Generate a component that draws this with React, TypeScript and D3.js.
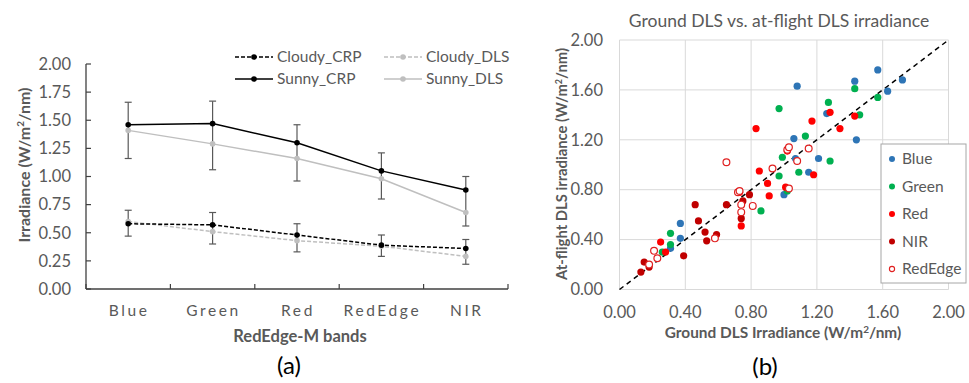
import React from 'react';
import * as d3 from 'd3';

// left panel: band means and error bar ends (W/m2/nm)
const bands = ['Blue', 'Green', 'Red', 'RedEdge', 'NIR'];
const sunnyCRP = [1.46, 1.47, 1.3, 1.05, 0.88];
const sunnyDLS = [1.41, 1.29, 1.16, 0.98, 0.68];
const cloudyCRP = [0.58, 0.57, 0.48, 0.39, 0.36];
const cloudyDLS = [0.6, 0.51, 0.43, 0.38, 0.29];
const sunnyErrHi = [1.66, 1.67, 1.46, 1.21, 1.0];
const sunnyErrLo = [1.16, 1.06, 0.96, 0.8, 0.56];
const cloudyErrHi = [0.7, 0.68, 0.58, 0.48, 0.44];
const cloudyErrLo = [0.47, 0.4, 0.33, 0.29, 0.22];
const leftTicks = [0, 0.25, 0.5, 0.75, 1, 1.25, 1.5, 1.75, 2];

// right panel: [ground, at-flight]
const bluePts = [[1.57, 1.76], [1.72, 1.68], [1.63, 1.59], [1.43, 1.67], [1.08, 1.63], [1.26, 1.41], [1.44, 1.2], [1.06, 1.21], [1.07, 1.05], [1.21, 1.05], [1.15, 0.94], [1.0, 0.76], [0.37, 0.53], [0.37, 0.41], [0.31, 0.33]];
const greenPts = [[0.97, 1.45], [1.27, 1.5], [1.43, 1.61], [1.57, 1.54], [1.46, 1.4], [1.13, 1.23], [0.99, 1.06], [1.28, 1.03], [1.09, 0.94], [0.97, 0.91], [0.86, 0.63], [1.02, 0.79], [0.31, 0.45], [0.31, 0.36], [0.26, 0.3]];
const redPts = [[0.83, 1.29], [1.17, 1.35], [1.28, 1.42], [1.43, 1.39], [1.34, 1.29], [1.02, 1.11], [1.18, 0.92], [0.85, 0.95], [0.9, 0.85], [0.91, 0.75], [1.01, 0.82], [0.73, 0.78], [0.74, 0.51], [0.25, 0.38], [0.28, 0.3]];
const nirPts = [[0.79, 0.76], [0.75, 0.71], [0.74, 0.57], [0.65, 0.68], [0.46, 0.68], [0.48, 0.55], [0.52, 0.46], [0.53, 0.39], [0.59, 0.44], [0.39, 0.27], [0.15, 0.22], [0.18, 0.18], [0.13, 0.14]];
const redEdgePts = [[0.65, 1.02], [0.93, 0.97], [1.15, 1.13], [1.02, 1.12], [1.03, 1.14], [1.08, 1.03], [1.03, 0.81], [0.72, 0.78], [0.73, 0.79], [0.74, 0.68], [0.74, 0.62], [0.81, 0.67], [0.58, 0.41], [0.21, 0.31], [0.23, 0.25], [0.18, 0.2]];
const rightTicks = [0, 0.4, 0.8, 1.2, 1.6, 2];

const font = 'Lato, "Open Sans", sans-serif';
const grey = '#595959';

const App = () => {
  // left panel scales
  const xL = d3.scaleBand().domain(bands).range([86, 508]);
  const yL = d3.scaleLinear().domain([0, 2]).range([289, 64]);
  const cx = (b: string) => (xL(b) as number) + xL.bandwidth() / 2;

  // right panel scales
  const xR = d3.scaleLinear().domain([0, 2]).range([619.5, 948.5]);
  const yR = d3.scaleLinear().domain([0, 2]).range([289.5, 40]);

  const line = (vals: number[]) =>
    d3.line<number>().x((_, i) => cx(bands[i])).y(d => yL(d))(vals) as string;

  const series = [
    { name: 'Cloudy_CRP', vals: cloudyCRP, color: '#000000', dash: '4,2', lx: 235, ly: 57 },
    { name: 'Cloudy_DLS', vals: cloudyDLS, color: '#bfbfbf', dash: '4,2', lx: 384, ly: 57 },
    { name: 'Sunny_CRP', vals: sunnyCRP, color: '#000000', dash: null, lx: 235, ly: 79 },
    { name: 'Sunny_DLS', vals: sunnyDLS, color: '#bfbfbf', dash: null, lx: 384, ly: 79 },
  ];
  const errs = [
    { hi: sunnyErrHi, lo: sunnyErrLo },
    { hi: cloudyErrHi, lo: cloudyErrLo },
  ];

  const groups = [
    { name: 'Blue', pts: bluePts, color: '#2e75b6', open: false },
    { name: 'Green', pts: greenPts, color: '#00b050', open: false },
    { name: 'Red', pts: redPts, color: '#ff0000', open: false },
    { name: 'NIR', pts: nirPts, color: '#c00000', open: false },
    { name: 'RedEdge', pts: redEdgePts, color: '#e02020', open: true },
  ];
  const legendOrder = ['Blue', 'Green', 'Red', 'NIR', 'RedEdge'];

  return (
    <svg width={969} height={383} style={{ position: 'absolute', left: 0, top: 0, background: '#fff' }} fontFamily={font}>
      {/* ---------- (a) ---------- */}
      <g>
        {leftTicks.map(t => (
          <g key={t}>
            <line x1={86} x2={91} y1={yL(t)} y2={yL(t)} stroke="#404040" strokeWidth={1.2} />
            <text x={71} y={yL(t)} dy="0.35em" textAnchor="end" fontSize={16.5} fill={grey}>{t.toFixed(2)}</text>
          </g>
        ))}
        {bands.map(b => (
          <line key={b} x1={xL(b) as number} x2={xL(b) as number} y1={289} y2={284} stroke="#404040" strokeWidth={1.2} />
        ))}
        <line x1={508} x2={508} y1={289} y2={284} stroke="#404040" strokeWidth={1.2} />
        <line x1={86} x2={86} y1={64} y2={289} stroke="#404040" strokeWidth={1.3} />
        <line x1={86} x2={508} y1={289} y2={289} stroke="#404040" strokeWidth={1.3} />
        {bands.map(b => (
          <text key={b} x={cx(b) + 1} y={316} textAnchor="middle" fontSize={15.5} letterSpacing={2.6} fill={grey}>{b}</text>
        ))}
        <text x={300} y={342} textAnchor="middle" fontSize={16.5} fontWeight="bold" fill={grey}>RedEdge-M bands</text>
        <text transform="translate(30,165) rotate(-90)" textAnchor="middle" fontSize={16} fontWeight="bold" fill={grey}>
          Irradiance (W/m<tspan dy={-6} fontSize={10}>2</tspan><tspan dy={6}>/nm)</tspan>
        </text>

        {errs.map((e, k) => bands.map((b, i) => (
          <g key={`${k}-${b}`} stroke="#595959" strokeWidth={1.2}>
            <line x1={cx(b)} x2={cx(b)} y1={yL(e.hi[i])} y2={yL(e.lo[i])} />
            <line x1={cx(b) - 3.5} x2={cx(b) + 3.5} y1={yL(e.hi[i])} y2={yL(e.hi[i])} />
            <line x1={cx(b) - 3.5} x2={cx(b) + 3.5} y1={yL(e.lo[i])} y2={yL(e.lo[i])} />
          </g>
        )))}

        {[series[1], series[3], series[0], series[2]].map(s => (
          <g key={s.name}>
            <path d={line(s.vals)} fill="none" stroke={s.color} strokeWidth={1.5} strokeDasharray={s.dash ?? undefined} />
            {s.vals.map((v, i) => (
              <circle key={i} cx={cx(bands[i])} cy={yL(v)} r={2.8} fill={s.color} />
            ))}
          </g>
        ))}

        {series.map(s => (
          <g key={`lg-${s.name}`}>
            <line x1={s.lx} x2={s.lx + 38} y1={s.ly} y2={s.ly} stroke={s.color} strokeWidth={1.5} strokeDasharray={s.dash ?? undefined} />
            <circle cx={s.lx + 19} cy={s.ly} r={2.8} fill={s.color} />
            <text x={s.lx + 42} y={s.ly} dy="0.35em" fontSize={15.5} fill={grey}>{s.name}</text>
          </g>
        ))}

        <text x={289} y={374} textAnchor="middle" fontSize={24} fill="#000">(a)</text>
      </g>

      {/* ---------- (b) ---------- */}
      <g>
        <text x={779} y={27} textAnchor="middle" fontSize={17.5} fill={grey}>Ground DLS vs. at-flight DLS irradiance</text>
        {rightTicks.map(t => (
          <g key={t}>
            <line x1={xR(0)} x2={xR(2)} y1={yR(t)} y2={yR(t)} stroke="#d9d9d9" strokeWidth={1} />
            <line x1={xR(t)} x2={xR(t)} y1={yR(0)} y2={yR(2)} stroke="#d9d9d9" strokeWidth={1} />
            <text x={603} y={yR(t)} dy="0.35em" textAnchor="end" fontSize={16.5} fill={grey}>{t.toFixed(2)}</text>
            <text x={xR(t)} y={312} dy="0.35em" textAnchor="middle" fontSize={16.5} fill={grey}>{t.toFixed(2)}</text>
          </g>
        ))}
        <line x1={xR(0)} y1={yR(0)} x2={xR(2)} y2={yR(2)} stroke="#000" strokeWidth={1.5} strokeDasharray="5,4" />

        {groups.map(g => (
          <g key={g.name}>
            {g.pts.map((p, i) => (
              g.open
                ? <circle key={i} cx={xR(p[0])} cy={yR(p[1])} r={3.4} fill="#fff" stroke={g.color} strokeWidth={1.2} />
                : <circle key={i} cx={xR(p[0])} cy={yR(p[1])} r={3.6} fill={g.color} />
            ))}
          </g>
        ))}

        <text x={783} y={338} textAnchor="middle" fontSize={15.4} fontWeight="bold" fill={grey}>
          Ground DLS Irradiance (W/m<tspan dy={-5} fontSize={10}>2</tspan><tspan dy={5}>/nm)</tspan>
        </text>
        <text transform="translate(567,164) rotate(-90)" textAnchor="middle" fontSize={14.8} fontWeight="bold" fill={grey}>
          At-flight DLS irradiance (W/m<tspan dy={-5} fontSize={9}>2</tspan><tspan dy={5}>/nm)</tspan>
        </text>

        <rect x={881} y={144} width={85} height={139} fill="#fff" stroke="#a6a6a6" strokeWidth={1} />
        {groups.map(g => {
          const yy = 159 + legendOrder.indexOf(g.name) * 27.5;
          return (
            <g key={`lg-${g.name}`}>
              {g.open
                ? <circle cx={892} cy={yy} r={2.6} fill="#fff" stroke={g.color} strokeWidth={1.1} />
                : <circle cx={892} cy={yy} r={3} fill={g.color} />}
              <text x={902} y={yy} dy="0.35em" fontSize={15.5} fill={grey}>{g.name}</text>
            </g>
          );
        })}

        <text x={765} y={375} textAnchor="middle" fontSize={24} fill="#000">(b)</text>
      </g>
    </svg>
  );
};

export default App;
